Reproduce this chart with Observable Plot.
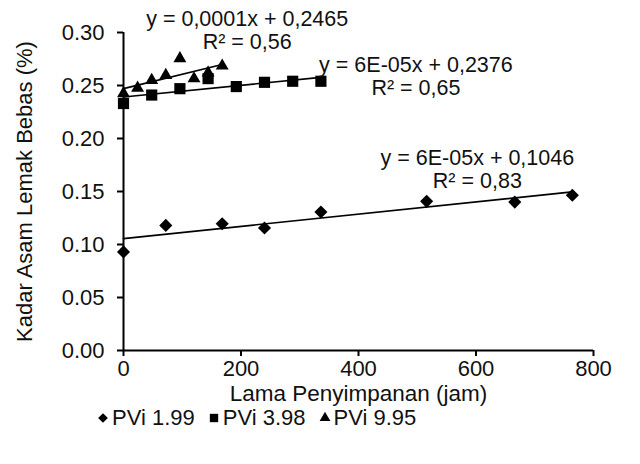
<!DOCTYPE html>
<html>
<head>
<meta charset="utf-8">
<script src="https://cdn.jsdelivr.net/npm/d3@7"></script>
<script src="https://cdn.jsdelivr.net/npm/@observablehq/plot@0.6"></script>
<style>
  html, body { margin: 0; padding: 0; background: #fff; }
  #chart { width: 640px; font-family: "Liberation Sans", Arial, sans-serif; color: #111; }
  #legend { display: flex; align-items: center; margin-left: 97px; margin-top: 7px; height: 22px; font-size: 22px; line-height: 22px; }
  #legend .item { display: flex; align-items: center; margin-right: 13px; }
  #legend svg { margin-right: 3px; }
</style>
</head>
<body>
<div id="chart"></div>
<script>
// ---- data ----
const seriesNames = ["PVi 1.99", "PVi 3.98", "PVi 9.95"];

const hours199 = [0, 72, 168, 240, 336, 516, 666, 764];
const ffa199   = [0.093, 0.118, 0.1196, 0.1155, 0.1306, 0.1407, 0.140, 0.1464];

const hours398 = [0, 48, 96, 144, 192, 240, 288, 336];
const ffa398   = [0.233, 0.241, 0.247, 0.2565, 0.249, 0.253, 0.254, 0.254];

const hours995 = [0, 24, 48, 72, 96, 120, 144, 168];
const ffa995   = [0.2425, 0.2477, 0.255, 0.2597, 0.2754, 0.2565, 0.262, 0.2685];

const equations = ["y = 6E-05x + 0,1046", "y = 6E-05x + 0,2376", "y = 0,0001x + 0,2465"];
const r2Labels  = ["R² = 0,83", "R² = 0,65", "R² = 0,56"];

const xTicks = [0, 200, 400, 600, 800];
const yTicks = [0, 0.05, 0.10, 0.15, 0.20, 0.25, 0.30];

const xTitle = "Lama Penyimpanan (jam)";
const yTitle = "Kadar Asam Lemak Bebas (%)";

// ---- build tables ----
const toRows = (hs, vs, s) => hs.map((h, i) => ({hour: h, ffa: vs[i], series: s}));
const d199 = toRows(hours199, ffa199, seriesNames[0]);
const d398 = toRows(hours398, ffa398, seriesNames[1]);
const d995 = toRows(hours995, ffa995, seriesNames[2]);
const lastOf = (rows, i) => [{...rows[rows.length - 1], label: equations[i] + "\n" + r2Labels[i]}];

const font = "Liberation Sans, Arial, sans-serif";
const lineOpts = {x: "hour", y: "ffa", stroke: "black", strokeWidth: 1.7, ci: 0};
const labelOpts = {x: "hour", y: "ffa", text: "label", fontSize: 21.5, lineAnchor: "bottom", lineHeight: 1.08, fill: "#111"};

const plot = Plot.plot({
  width: 640,
  height: 400,
  marginTop: 32,
  marginBottom: 50,
  marginLeft: 123,
  marginRight: 47,
  style: {fontFamily: font, color: "#111", background: "#fff", overflow: "visible"},
  x: {domain: [0, 800]},
  y: {domain: [0, 0.30]},
  marks: [
    Plot.axisX({ticks: xTicks, tickSize: 6, tickPadding: 4, fontSize: 22, strokeWidth: 2, stroke: "black", label: null, tickFormat: d3.format("d")}),
    Plot.axisY({ticks: yTicks, tickSize: 6, tickPadding: 13, fontSize: 22, strokeWidth: 2, stroke: "black", label: null, tickFormat: d3.format(".2f")}),
    Plot.ruleY([0], {stroke: "black", strokeWidth: 2}),
    Plot.ruleX([0], {stroke: "black", strokeWidth: 2}),
    Plot.text([xTitle], {frameAnchor: "bottom", textAnchor: "middle", lineAnchor: "middle", dy: 43, fontSize: 22.5, fill: "#111"}),
    Plot.text([yTitle], {frameAnchor: "left", textAnchor: "middle", lineAnchor: "middle", rotate: -90, dx: -99, dy: 0, fontSize: 22, fill: "#111"}),
    Plot.linearRegressionY(d199, lineOpts),
    Plot.linearRegressionY(d398, lineOpts),
    Plot.linearRegressionY(d995, lineOpts),
    Plot.dot(d199, {x: "hour", y: "ffa", symbol: "diamond2", r: 5.9, fill: "black"}),
    Plot.dot(d398, {x: "hour", y: "ffa", symbol: "square", r: 6.3, fill: "black"}),
    Plot.dot(d995, {x: "hour", y: "ffa", symbol: "triangle", r: 4.8, fill: "black"}),
    Plot.text(lastOf(d199, 0), {...labelOpts, dx: -95, dy: -7}),
    Plot.text(lastOf(d398, 1), {...labelOpts, dx: 95, dy: 14}),
    Plot.text(lastOf(d995, 2), {...labelOpts, dx: 25, dy: -17})
  ]
});

const chart = document.getElementById("chart");
chart.appendChild(plot);

// ---- legend below the plot ----
const legendSymbols = [d3.symbolDiamond2, d3.symbolSquare, d3.symbolTriangle];
const legendSizes = [60, 70, 50];
const legend = d3.select(chart).append("div").attr("id", "legend");
seriesNames.forEach((name, i) => {
  const item = legend.append("div").attr("class", "item");
  const svg = item.append("svg").attr("width", 12).attr("height", 12);
  svg.append("path")
    .attr("transform", "translate(6,6)")
    .attr("d", d3.symbol(legendSymbols[i], legendSizes[i])())
    .attr("fill", "black");
  item.append("span").text(name);
});
</script>
</body>
</html>
